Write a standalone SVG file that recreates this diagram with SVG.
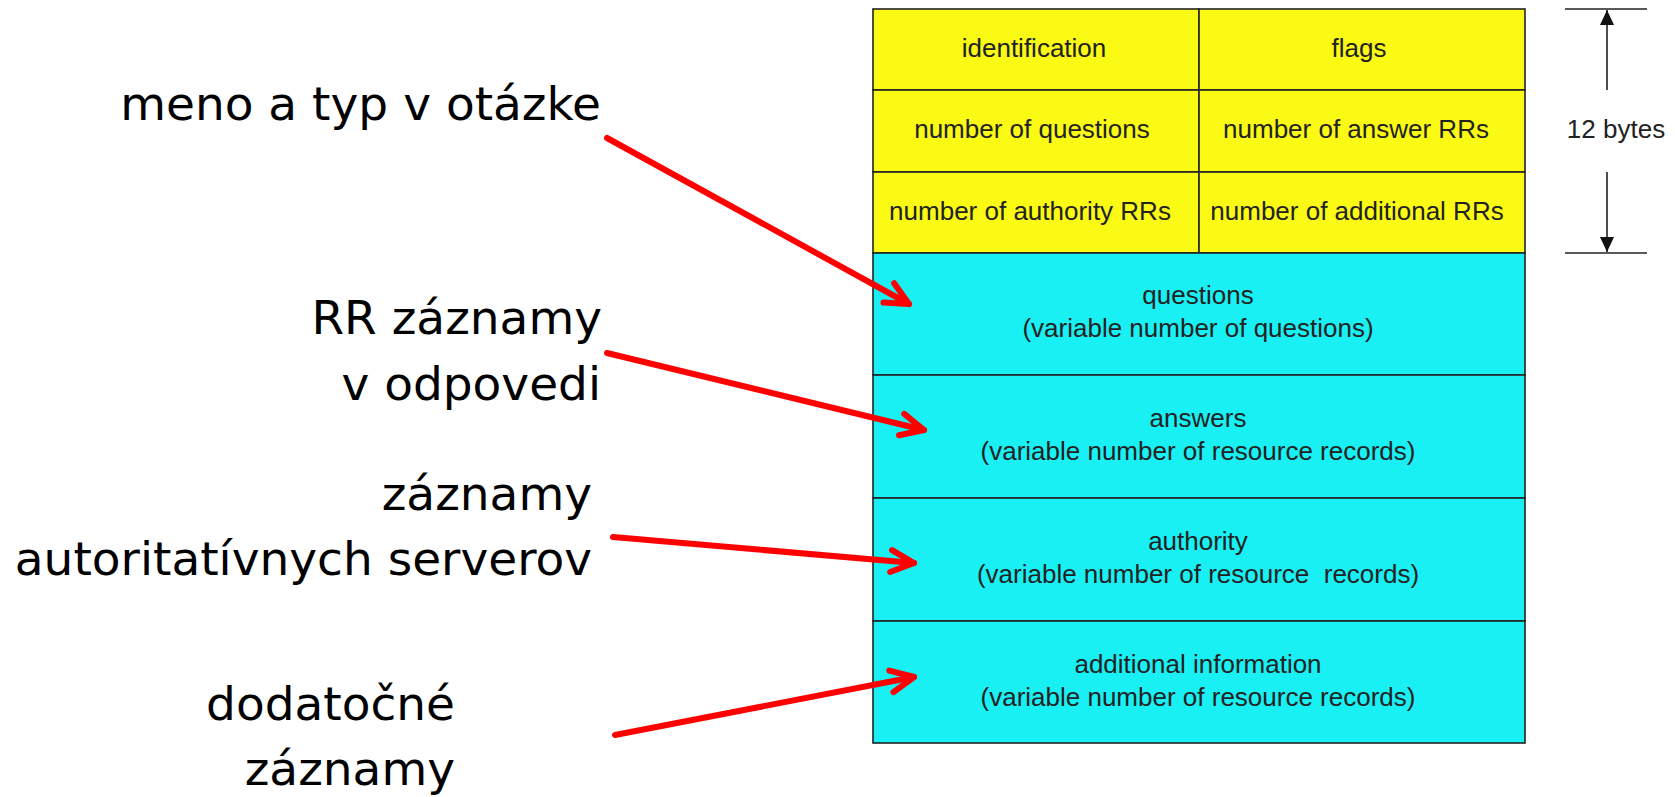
<svg xmlns="http://www.w3.org/2000/svg" width="1675" height="797" viewBox="0 0 1675 797">
  <style>
    .hdr { fill: #FAFA14; stroke: #222; stroke-width: 1.6; }
    .body { fill: #18F0F4; stroke: #222; stroke-width: 1.6; }
    .cell { font-family: "Liberation Sans", Arial, sans-serif; font-size: 26px; fill: #222; text-anchor: middle; }
    .lbl { font-family: "DejaVu Sans", Tahoma, sans-serif; font-size: 47px; fill: #000; text-anchor: end; }
    .ptr { fill: none; stroke: #FF0000; stroke-width: 6; stroke-linecap: round; marker-end: url(#chevron); }
    .dim { stroke: #222; stroke-width: 1.6; fill: none; }
  </style>
  <defs>
    <marker id="chevron" markerUnits="userSpaceOnUse" markerWidth="40" markerHeight="40" viewBox="-30 -20 40 40" refX="0" refY="0" orient="auto" overflow="visible">
      <path d="M -23 -11 L 0 0 L -23 11" fill="none" stroke="#FF0000" stroke-width="6" stroke-linecap="round" stroke-linejoin="round"/>
    </marker>
    <marker id="tri" markerUnits="userSpaceOnUse" markerWidth="20" markerHeight="20" viewBox="-16 -8 20 16" refX="0" refY="0" orient="auto">
      <path d="M -15 -7 L 0 0 L -15 7 Z" fill="#111"/>
    </marker>
  </defs>

  <!-- DNS message header: 12 bytes -->
  <g id="identification">
    <rect class="hdr" x="873" y="9" width="326" height="81"/>
    <text class="cell" x="1034" y="57">identification</text>
  </g>
  <g id="flags">
    <rect class="hdr" x="1199" y="9" width="326" height="81"/>
    <text class="cell" x="1359" y="57">flags</text>
  </g>
  <g id="num-questions">
    <rect class="hdr" x="873" y="90" width="326" height="82"/>
    <text class="cell" x="1032" y="138">number of questions</text>
  </g>
  <g id="num-answer-rrs">
    <rect class="hdr" x="1199" y="90" width="326" height="82"/>
    <text class="cell" x="1356" y="138">number of answer RRs</text>
  </g>
  <g id="num-authority-rrs">
    <rect class="hdr" x="873" y="172" width="326" height="81"/>
    <text class="cell" x="1030" y="220">number of authority RRs</text>
  </g>
  <g id="num-additional-rrs">
    <rect class="hdr" x="1199" y="172" width="326" height="81"/>
    <text class="cell" x="1357" y="220">number of additional RRs</text>
  </g>

  <!-- DNS message body sections -->
  <g id="questions">
    <rect class="body" x="873" y="253" width="652" height="122"/>
    <text class="cell" x="1198" y="304">questions</text>
    <text class="cell" x="1198" y="337">(variable number of questions)</text>
  </g>
  <g id="answers">
    <rect class="body" x="873" y="375" width="652" height="123"/>
    <text class="cell" x="1198" y="427">answers</text>
    <text class="cell" x="1198" y="460">(variable number of resource records)</text>
  </g>
  <g id="authority">
    <rect class="body" x="873" y="498" width="652" height="123"/>
    <text class="cell" x="1198" y="550">authority</text>
    <text class="cell" x="1198" y="583">(variable number of resource&#160; records)</text>
  </g>
  <g id="additional">
    <rect class="body" x="873" y="621" width="652" height="122"/>
    <text class="cell" x="1198" y="673">additional information</text>
    <text class="cell" x="1198" y="706">(variable number of resource records)</text>
  </g>

  <!-- header size dimension -->
  <g id="size-12-bytes">
    <line class="dim" x1="1565" y1="9" x2="1647" y2="9"/>
    <line class="dim" x1="1565" y1="253" x2="1647" y2="253"/>
    <line class="dim" x1="1607" y1="90" x2="1607" y2="10" marker-end="url(#tri)"/>
    <line class="dim" x1="1607" y1="172" x2="1607" y2="252" marker-end="url(#tri)"/>
    <text class="cell" x="1616" y="138">12 bytes</text>
  </g>

  <!-- explanatory labels -->
  <g id="label-question">
    <text class="lbl" x="601" y="120">meno a typ v otázke</text>
  </g>
  <g id="label-answers">
    <text class="lbl" x="602" y="334">RR záznamy</text>
    <text class="lbl" x="601" y="400">v odpovedi</text>
  </g>
  <g id="label-authority">
    <text class="lbl" x="592" y="510">záznamy</text>
    <text class="lbl" x="592" y="575">autoritatívnych serverov</text>
  </g>
  <g id="label-additional">
    <text class="lbl" x="455" y="720">dodatočné</text>
    <text class="lbl" x="455" y="785">záznamy</text>
  </g>

  <!-- pointers from labels to sections -->
  <g id="connectors">
    <path class="ptr" d="M 607 138 L 909 304"/>
    <path class="ptr" d="M 607 353 L 924 430"/>
    <path class="ptr" d="M 613 537 L 914 563"/>
    <path class="ptr" d="M 615 735 L 914 677"/>
  </g>
</svg>
